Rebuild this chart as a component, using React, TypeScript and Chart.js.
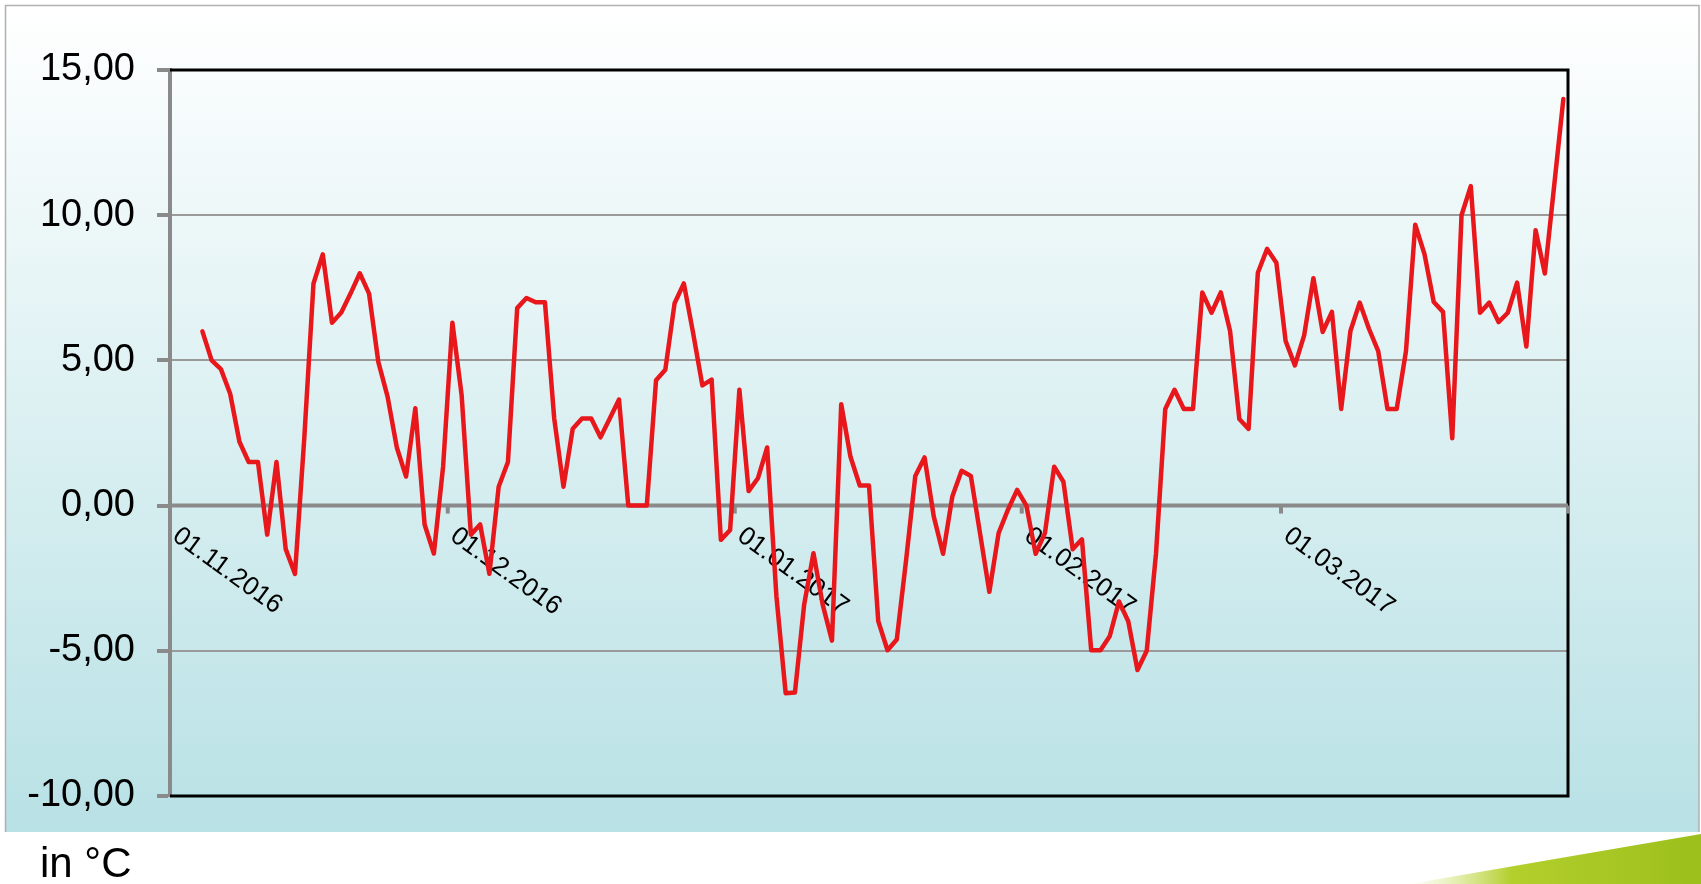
import React, { useEffect, useRef } from "react";
import { Chart, registerables } from "chart.js";

Chart.register(...registerables);

// Daily temperatures (°C), 04.11.2016 – 31.03.2017
const novTemps = [6.0, 5.0, 4.7, 3.85, 2.2, 1.5, 1.5, -1.0, 1.5, -1.5, -2.35, 2.3, 7.65, 8.65, 6.3, 6.65, 7.3, 8.0, 7.3, 4.95, 3.75, 2.0, 1.0, 3.35, -0.65, -1.65, 1.35];
const decTemps = [6.3, 3.8, -1.0, -0.65, -2.35, 0.65, 1.5, 6.8, 7.15, 7.0, 7.0, 3.0, 0.65, 2.65, 3.0, 3.0, 2.35, 3.0, 3.65, 0.0, 0.0, 0.0, 4.32, 4.68, 6.97, 7.65, 5.95, 4.14, 4.34, -1.18, -0.84];
const janTemps = [3.99, 0.5, 0.94, 2.0, -3.12, -6.46, -6.44, -3.4, -1.64, -3.41, -4.65, 3.49, 1.68, 0.69, 0.69, -3.98, -4.98, -4.61, -1.9, 1.02, 1.66, -0.38, -1.66, 0.31, 1.2, 1.02, -0.97, -2.97, -0.95, -0.15, 0.54];
const febTemps = [0.0, -1.66, -0.95, 1.34, 0.82, -1.5, -1.16, -4.98, -4.98, -4.5, -3.3, -3.98, -5.66, -5.0, -1.65, 3.33, 3.99, 3.33, 3.33, 7.34, 6.64, 7.34, 6.01, 2.98, 2.64, 8.02, 8.84, 8.36];
const marTemps = [5.67, 4.83, 5.86, 7.83, 5.98, 6.67, 3.33, 6.01, 6.99, 6.09, 5.32, 3.33, 3.33, 5.32, 9.67, 8.66, 7.01, 6.67, 2.32, 10.0, 11.0, 6.64, 6.99, 6.32, 6.64, 7.68, 5.48, 9.48, 7.99, 11.0, 14.0];

const firstDate = "04.11.2016";
const axisStart = "01.11.2016";
const axisEnd = "01.04.2017";
const dateTickLabels = ["01.11.2016", "01.12.2016", "01.01.2017", "01.02.2017", "01.03.2017"];
const yTickValues = [-10, -5, 0, 5, 10, 15];
const unitLabel = "in °C";

const FONT = '"Liberation Sans", Arial, Helvetica, sans-serif';
const DAY_MS = 86400000;

function parseDate(s: string): number {
  const [d, m, y] = s.split(".").map(Number);
  return Date.UTC(y, m - 1, d);
}
function dayIndex(s: string): number {
  return Math.round((parseDate(s) - parseDate(axisStart)) / DAY_MS);
}

const framePlugin = {
  id: "framePlugin",
  beforeDraw(chart: any) {
    const ctx = chart.ctx;
    const W = chart.width;
    const H = chart.height;
    ctx.save();
    ctx.fillStyle = "#ffffff";
    ctx.fillRect(0, 0, W, H);
    // gradient panel
    const g = ctx.createLinearGradient(0, 5, 0, 832);
    g.addColorStop(0, "#ffffff");
    g.addColorStop(1, "#b8e1e5");
    ctx.fillStyle = g;
    ctx.fillRect(5, 5, 1694, 827);
    ctx.strokeStyle = "#b0b0b0";
    ctx.lineWidth = 1.5;
    ctx.beginPath();
    ctx.moveTo(5.5, 832);
    ctx.lineTo(5.5, 5.5);
    ctx.lineTo(1699, 5.5);
    ctx.lineTo(1699, 832);
    ctx.stroke();
    // green swoosh
    const sg = ctx.createLinearGradient(1410, 0, 1701, 0);
    sg.addColorStop(0, "rgba(210,225,110,0)");
    sg.addColorStop(0.35, "#b3cf2c");
    sg.addColorStop(1, "#9cbf1c");
    ctx.fillStyle = sg;
    ctx.beginPath();
    ctx.moveTo(1410, 884);
    ctx.quadraticCurveTo(1560, 858, 1701, 834);
    ctx.lineTo(1701, 884);
    ctx.closePath();
    ctx.fill();
    // unit label
    ctx.fillStyle = "#000";
    ctx.font = `42px ${FONT}`;
    ctx.textAlign = "left";
    ctx.textBaseline = "alphabetic";
    ctx.fillText(unitLabel, 40, 877);
    ctx.restore();
  },
  beforeDatasetsDraw(chart: any) {
    const { ctx, chartArea, scales } = chart;
    const { left, right, top, bottom } = chartArea;
    const xs = scales.x;
    const ys = scales.y;
    ctx.save();
    // black frame top/right/bottom
    ctx.strokeStyle = "#000";
    ctx.lineWidth = 3;
    ctx.beginPath();
    ctx.moveTo(left, top);
    ctx.lineTo(right, top);
    ctx.lineTo(right, bottom);
    ctx.lineTo(left, bottom);
    ctx.stroke();
    // zero axis
    const y0 = ys.getPixelForValue(0);
    ctx.strokeStyle = "#8a8a8a";
    ctx.lineWidth = 4;
    ctx.beginPath();
    ctx.moveTo(left, y0);
    ctx.lineTo(right, y0);
    ctx.stroke();
    [...dateTickLabels, axisEnd].forEach((lbl) => {
      const px = xs.getPixelForValue(dayIndex(lbl));
      ctx.beginPath();
      ctx.moveTo(px, y0);
      ctx.lineTo(px, y0 + 8);
      ctx.stroke();
    });
    // rotated date labels
    ctx.fillStyle = "#000";
    ctx.font = `26px ${FONT}`;
    ctx.textAlign = "left";
    ctx.textBaseline = "top";
    dateTickLabels.forEach((lbl) => {
      const px = xs.getPixelForValue(dayIndex(lbl));
      ctx.save();
      ctx.translate(px + 13, y0 + 17);
      ctx.rotate((36 * Math.PI) / 180);
      ctx.fillText(lbl, 0, 0);
      ctx.restore();
    });
    ctx.restore();
  },
};

export default function App() {
  const canvasRef = useRef<HTMLCanvasElement | null>(null);

  useEffect(() => {
    if (!canvasRef.current) return;
    const temps = [...novTemps, ...decTemps, ...janTemps, ...febTemps, ...marTemps];
    const start = dayIndex(firstDate);
    const points = temps.map((v, i) => ({ x: start + i + 0.5, y: v }));

    const chart = new Chart(canvasRef.current, {
      type: "line",
      data: {
        datasets: [
          {
            label: "Temperatur",
            data: points,
            borderColor: "#e8171c",
            borderWidth: 4.5,
            pointRadius: 0,
            tension: 0,
            fill: false,
            borderJoinStyle: "round",
            borderCapStyle: "round",
          },
        ],
      },
      options: {
        animation: false,
        responsive: false,
        devicePixelRatio: 1,
        layout: { padding: { left: 0, top: 70, right: 133, bottom: 88 } },
        plugins: { legend: { display: false }, tooltip: { enabled: false } },
        scales: {
          x: {
            type: "linear",
            min: 0,
            max: dayIndex(axisEnd),
            display: false,
          },
          y: {
            min: -10,
            max: 15,
            afterBuildTicks: (scale: any) => {
              scale.ticks = yTickValues.map((v) => ({ value: v }));
            },
            afterFit: (scale: any) => {
              scale.width = 170;
            },
            ticks: {
              padding: 22,
              color: "#000",
              font: { size: 38, family: FONT },
              callback: (v: any) => Number(v).toFixed(2).replace(".", ","),
            },
            grid: {
              color: (c: any) =>
                c.tick && [15, 0, -10].includes(c.tick.value) ? "rgba(0,0,0,0)" : "#9a9a9a",
              lineWidth: 2,
              drawTicks: true,
              tickLength: 13,
              tickColor: "#8a8a8a",
              tickWidth: 4,
            },
            border: { display: true, color: "#8a8a8a", width: 4 },
          },
        },
      },
      plugins: [framePlugin],
    } as any);

    return () => chart.destroy();
  }, []);

  return (
    <div style={{ position: "absolute", left: 0, top: 0, width: 1701, height: 884 }}>
      <canvas ref={canvasRef} width={1701} height={884} style={{ width: 1701, height: 884, display: "block" }} />
    </div>
  );
}
